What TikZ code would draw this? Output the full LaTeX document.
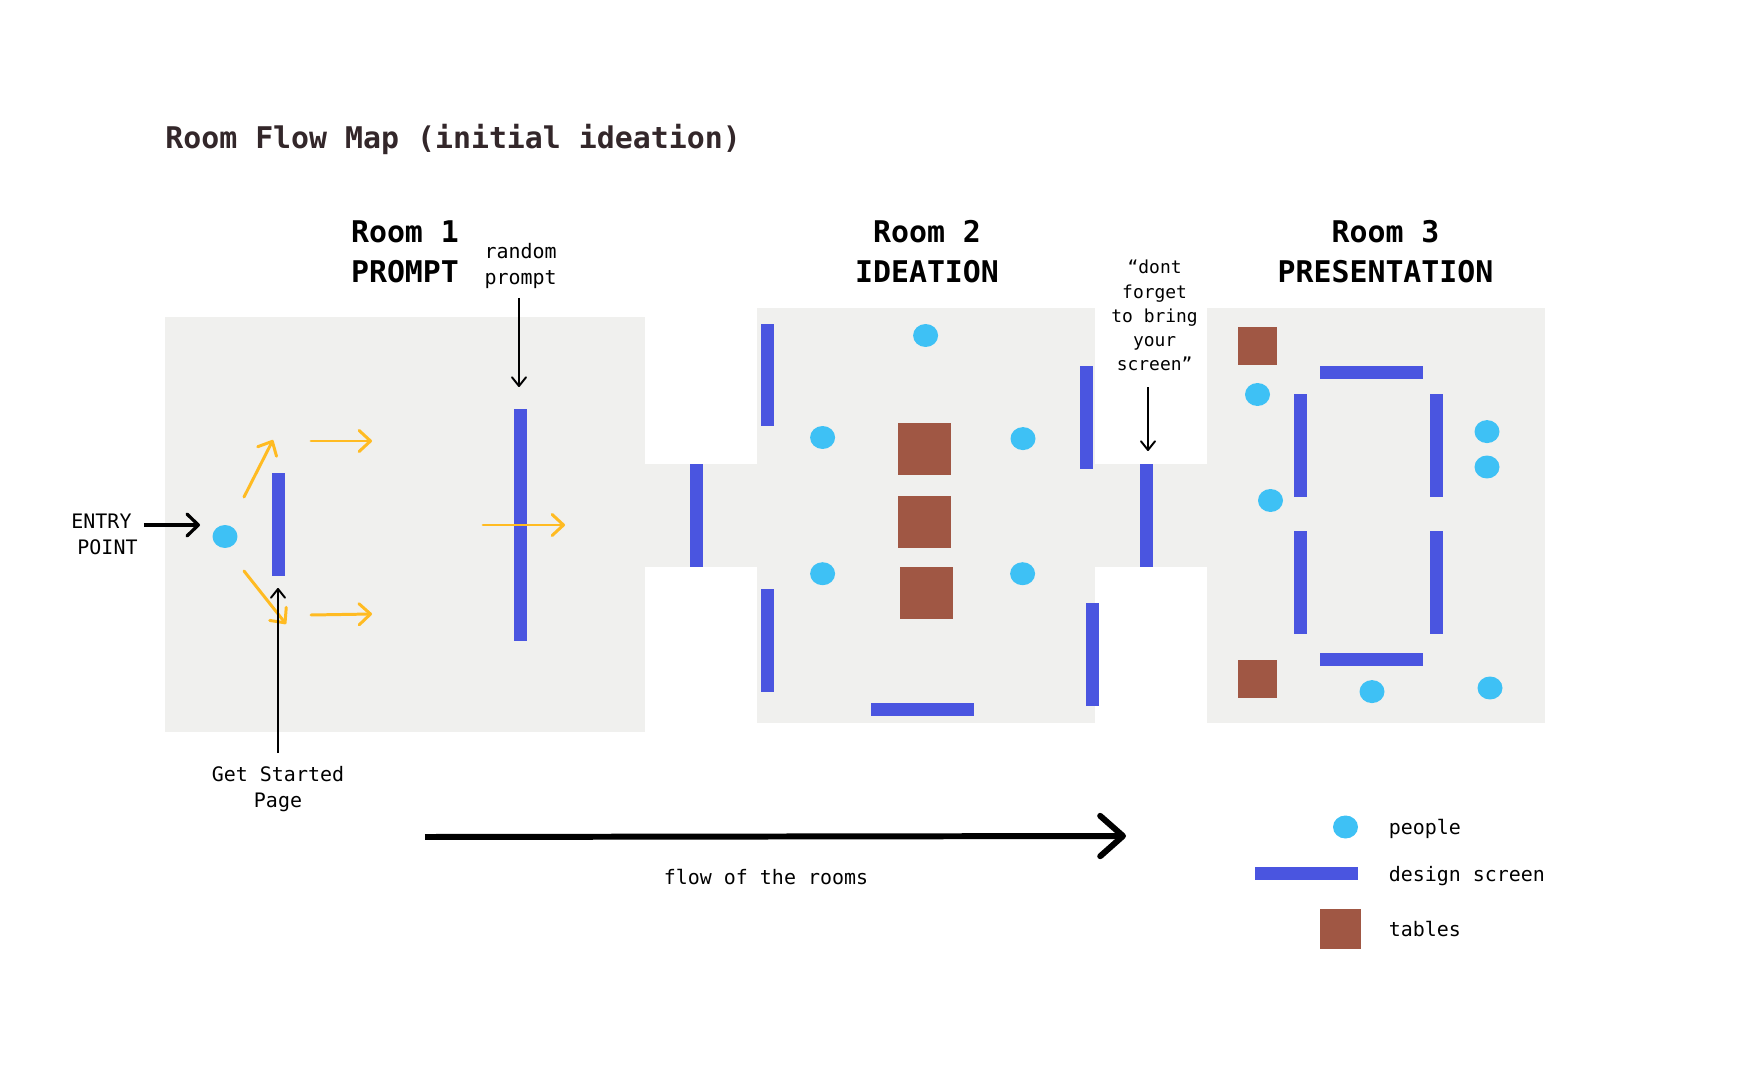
\documentclass[tikz,border=0pt]{standalone}
\usepackage{fontspec}
\setmainfont{DejaVu Sans Mono}
\usetikzlibrary{arrows.meta,shapes.geometric}
\definecolor{roomgrey}{HTML}{F0F0EE}
\definecolor{screenblue}{HTML}{4A55E0}
\definecolor{peopleblue}{HTML}{3EC1F5}
\definecolor{tablebrown}{HTML}{A05744}
\definecolor{pathorange}{HTML}{FFBB22}
\definecolor{titledark}{HTML}{33272A}
\tikzset{
    room/.style={fill=roomgrey},
    person/.style={ellipse,fill=peopleblue,inner sep=0pt,minimum width=0.5cm,minimum height=0.46cm},
    vscreen/.style={rectangle,fill=screenblue,inner sep=0pt,minimum width=0.26cm,minimum height=2.06cm},
    hscreen/.style={rectangle,fill=screenblue,inner sep=0pt,minimum width=2.06cm,minimum height=0.26cm},
    bigtable/.style={rectangle,fill=tablebrown,inner sep=0pt,minimum width=1.06cm,minimum height=1.04cm},
    smalltable/.style={rectangle,fill=tablebrown,inner sep=0pt,minimum width=0.78cm,minimum height=0.76cm},
    heading/.style={align=center,inner sep=0pt,font=\fontsize{17}{22.7}\selectfont\bfseries},
    label/.style={align=center,inner sep=0pt,font=\fontsize{11.35}{14.5}\selectfont},
    smalllabel/.style={align=center,inner sep=0pt,font=\fontsize{10.2}{13.8}\selectfont},
    patharrow/.style={pathorange,line width=1.7pt,line cap=round,-{Straight Barb[length=6.5pt,width=12pt,round]}},
    thinarrow/.style={black,line width=1.1pt,-{Straight Barb[length=5pt,width=8pt,round]}},
    entryarrow/.style={black,line width=1.85pt,-{Straight Barb[length=6.5pt,width=12.5pt,round]}},
    flowarrow/.style={black,line width=3.4pt,-{Straight Barb[length=13pt,width=23pt,round]}}
}
\begin{document}
\begin{tikzpicture}[x=0.02cm,y=-0.02cm]
    \useasboundingbox (0,0) rectangle (1742,1067);
    % Rooms
    \fill [room] (165,317) rectangle (645,732);
    \fill [room] (757,308) rectangle (1095,723);
    \fill [room] (1207,308) rectangle (1545,723);
    \fill [room] (645,464) rectangle (1207,567);
    % Headings
    \node [font=\fontsize{17}{22.7}\selectfont\bfseries,text=titledark,inner sep=0pt,anchor=base west] (title) at (165,149) {Room Flow Map (initial ideation)};
    \node [heading] (roomone) at (405,252) {Room 1\\PROMPT};
    \node [heading] (roomtwo) at (927,252) {Room 2\\IDEATION};
    \node [heading] (roomthree) at (1385.5,252) {Room 3\\PRESENTATION};
    % Room 1
    \node [vscreen] (startscreen) at (278.5,524.5) {};
    \node [vscreen,minimum height=4.64cm] (promptscreen) at (520.5,525) {};
    \node [vscreen] (doorone) at (696.5,515.5) {};
    \node [person] (entryperson) at (225,536.5) {};
    % Room 2
    \node [vscreen] (twoa) at (767.5,375) {};
    \node [vscreen] (twob) at (767.5,640.5) {};
    \node [vscreen] (twoc) at (1086.5,417.5) {};
    \node [vscreen] (twod) at (1092.5,654.5) {};
    \node [hscreen] (twoe) at (922.5,709.5) {};
    \node [vscreen] (doortwo) at (1146.5,515.5) {};
    \node [bigtable] (tablea) at (924.5,449) {};
    \node [bigtable] (tableb) at (924.5,522) {};
    \node [bigtable] (tablec) at (926.5,593) {};
    \node [person] (twopa) at (925.6,335.5) {};
    \node [person] (twopb) at (822.6,437.5) {};
    \node [person] (twopc) at (1023,438.6) {};
    \node [person] (twopd) at (822.6,573.7) {};
    \node [person] (twope) at (1022.6,573.7) {};
    % Room 3
    \node [smalltable] (tabled) at (1257.5,346) {};
    \node [smalltable] (tablee) at (1257.5,679) {};
    \node [hscreen] (threea) at (1371.5,372.5) {};
    \node [hscreen] (threeb) at (1371.5,659.5) {};
    \node [vscreen] (threec) at (1300.5,445.5) {};
    \node [vscreen] (threed) at (1300.5,582.5) {};
    \node [vscreen] (threee) at (1436.5,445.5) {};
    \node [vscreen] (threef) at (1436.5,582.5) {};
    \node [person] (threepa) at (1257.5,394.5) {};
    \node [person] (threepb) at (1270.5,500.5) {};
    \node [person] (threepc) at (1487,431.6) {};
    \node [person] (threepd) at (1487,467) {};
    \node [person] (threepe) at (1372,691.6) {};
    \node [person] (threepf) at (1490,688) {};
    % Orange paths
    \coordinate (upa) at (244,497);
    \coordinate (upb) at (273,440);
    \coordinate (upc) at (311,441);
    \coordinate (upd) at (372,441);
    \coordinate (downa) at (244,571);
    \coordinate (downb) at (286,624);
    \coordinate (downc) at (311,615);
    \coordinate (downd) at (372,614);
    \coordinate (mida) at (483,525);
    \coordinate (midb) at (565,525);
    \draw [patharrow] (upa) -- (upb);
    \draw [patharrow] (upc) -- (upd);
    \draw [patharrow] (downa) -- (downb);
    \draw [patharrow] (downc) -- (downd);
    \draw [patharrow] (mida) -- (midb);
    % Labels with arrows
    \node [label] (entrylabel) at (107.5,534.5) {ENTRY~\mbox{}\\POINT};
    \coordinate (entrytip) at (200,525);
    \draw [entryarrow] (entrylabel.east |- entrytip) -- (entrytip);
    \node [label] (promptlabel) at (520.7,266.2) {random\\prompt};
    \coordinate (prompttip) at (519,387);
    \draw [thinarrow,shorten <=0.18cm] (promptlabel.south -| prompttip) -- (prompttip);
    \node [label] (startedlabel) at (278,789) {Get Started\\Page};
    \coordinate (startedtip) at (278,588);
    \draw [thinarrow,shorten <=0.26cm] (startedlabel.north) -- (startedtip);
    \node [smalllabel] (screenlabel) at (1154.6,315.8) {“dont\\forget\\to bring\\your\\screen”};
    \coordinate (screentip) at (1148,451);
    \draw [thinarrow,shorten <=0.31cm] (screenlabel.south -| screentip) -- (screentip);
    % Flow
    \coordinate (flowstart) at (425,837);
    \coordinate (flowend) at (1126,836);
    \draw [flowarrow] (flowstart) -- (flowend);
    \node [label] (flowlabel) at (766,876.7) {flow of the rooms};
    % Legend
    \node [person] (legendperson) at (1345.5,827) {};
    \node [hscreen] (legendscreen) at (1306.5,873.5) {};
    \node [rectangle,fill=tablebrown,inner sep=0pt,minimum width=0.82cm,minimum height=0.8cm] (legendtable) at (1340.5,929) {};
    \node [label,anchor=base west] (legendpeople) at (1388.5,834) {people};
    \node [label,anchor=base west] (legenddesign) at (1388.5,881) {design screen};
    \node [label,anchor=base west] (legendtables) at (1388.5,936) {tables};
\end{tikzpicture}
\end{document}
